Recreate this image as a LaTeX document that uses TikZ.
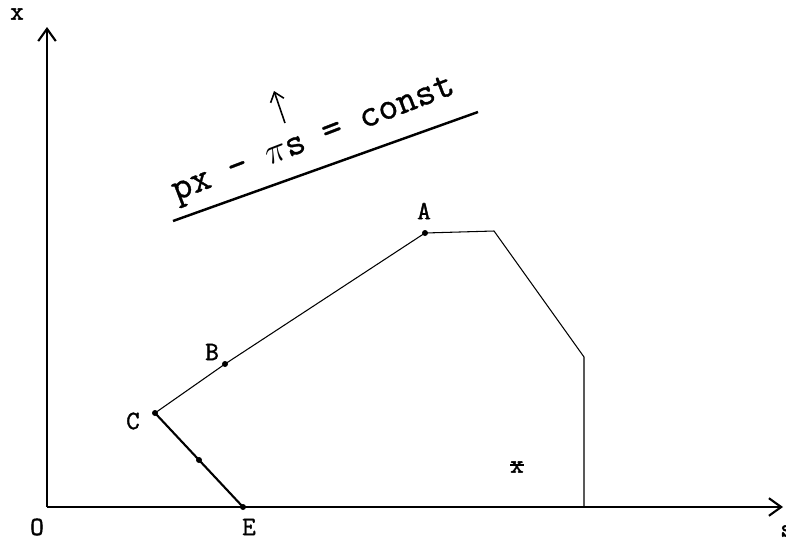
\documentclass[tikz,border=0pt]{standalone}
\usepackage{fontspec}
\newfontfamily\heavytt{Latin Modern Mono}[FakeBold=1.6]
\newfontfamily\eqtt{Latin Modern Mono}[FakeBold=0.8]
\usetikzlibrary{arrows.meta}
\begin{document}
\begin{tikzpicture}[x=0.02cm, y=-0.02cm,
  axisline/.style = {line width=1.2pt, -{Straight Barb[length=7pt,width=10pt,line width=1.2pt]}},
  edgeline/.style = {line width=0.6pt},
  thickedge/.style = {line width=1.2pt},
  isoline/.style = {line width=1.4pt},
  ptdot/.style = {fill=black},
  ptlbl/.style = {font=\fontsize{15}{17}\selectfont\heavytt, inner sep=0pt},
  eqlbl/.style = {font=\fontsize{22}{24}\selectfont\eqtt, inner sep=0pt}
]
  \useasboundingbox (0,0) rectangle (786,541);
  % axes
  \coordinate (O) at (47,507);
  \coordinate (sEnd) at (783,507);
  \coordinate (xEnd) at (47,27);
  \draw[axisline] (O) -- (sEnd);
  \draw[axisline] (O) -- (xEnd);
  \node[ptlbl] (xlbl) at (17,14) {x};
  \node[ptlbl] (olbl) at (37,527) {O};
  \node[ptlbl] (slbl) at (787,531) {s};
  % feasible set
  \coordinate (E) at (243,507);
  \coordinate (D) at (199,460);
  \coordinate (C) at (155,413);
  \coordinate (B) at (225,364);
  \coordinate (A) at (425,233);
  \coordinate (F) at (494,231);
  \coordinate (G) at (584,357);
  \coordinate (H) at (584,507);
  \draw[edgeline] (C) -- (B) -- (A) -- (F) -- (G) -- (H);
  \draw[thickedge] (C) -- (D) -- (E);
  \foreach \p in {A,B,C,D,E}
    \fill[ptdot] (\p) circle (3);
  \node[ptlbl] (albl) at (424,211) {A};
  \node[ptlbl] (blbl) at (212,352) {B};
  \node[ptlbl] (clbl) at (133,421) {C};
  \node[ptlbl] (elbl) at (249,527) {E};
  \node[ptlbl] (setlbl) at (517,467)
    {\makebox[0pt][l]{x}\raisebox{0.27em}{\rule{0.52em}{0.8pt}}};
  % iso-profit line
  \coordinate (L1) at (173,221);
  \coordinate (L2) at (478,112);
  \draw[isoline] (L1) -- (L2);
  \node[eqlbl, rotate=21] (eq) at (314,141) {px - $\pi$s = const};
  \coordinate (up1) at (285,123);
  \coordinate (up2) at (274,91);
  \draw[edgeline, line width=0.9pt, -{Straight Barb[length=5pt,width=8pt]}] (up1) -- (up2);
\end{tikzpicture}
\end{document}
